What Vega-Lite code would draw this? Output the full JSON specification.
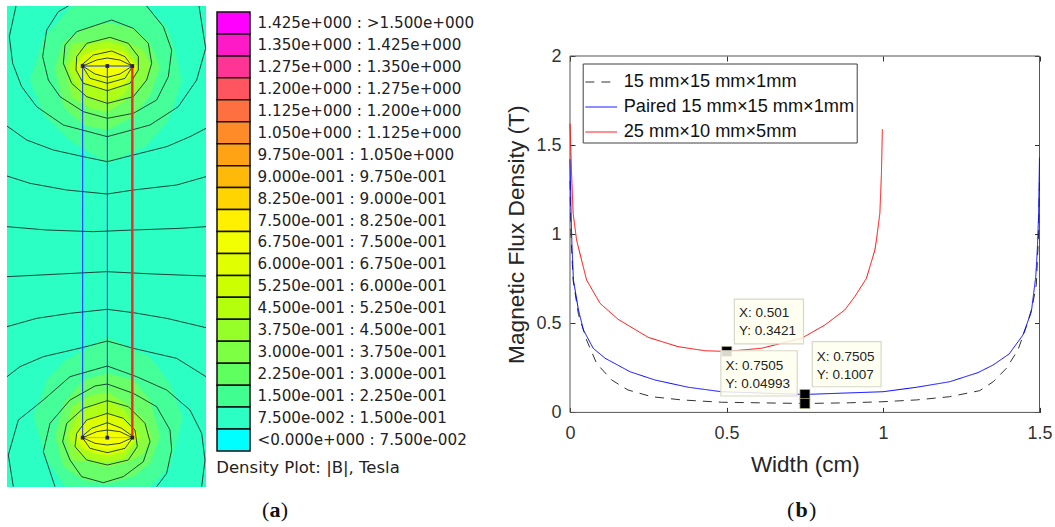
{
"$schema":"https://vega.github.io/schema/vega-lite/v6.json",
"background":"white",
"padding":{"left":5,"top":4,"right":0,"bottom":0},
"bounds":"flush",
"spacing":563,
"config":{"view":{"stroke":null}},
"resolve":{"scale":{"color":"independent","strokeDash":"independent"},"legend":{"color":"independent","strokeDash":"independent"}},
"datasets":{
"bands":[
{"level":"7.500e-002 : 1.500e-001","blob":"bg","x":21,"y":18,"y2":1461},
{"level":"7.500e-002 : 1.500e-001","blob":"bg","x":618,"y":18,"y2":1461},
{"level":"1.500e-001 : 2.250e-001","blob":"t1","x":90,"y":240,"y2":240},
{"level":"1.500e-001 : 2.250e-001","blob":"t1","x":130,"y":115,"y2":345},
{"level":"1.500e-001 : 2.250e-001","blob":"t1","x":215,"y":18,"y2":425},
{"level":"1.500e-001 : 2.250e-001","blob":"t1","x":322,"y":18,"y2":490},
{"level":"1.500e-001 : 2.250e-001","blob":"t1","x":435,"y":18,"y2":440},
{"level":"1.500e-001 : 2.250e-001","blob":"t1","x":500,"y":80,"y2":370},
{"level":"1.500e-001 : 2.250e-001","blob":"t1","x":520,"y":130,"y2":320},
{"level":"1.500e-001 : 2.250e-001","blob":"t1","x":545,"y":240,"y2":240},
{"level":"1.500e-001 : 2.250e-001","blob":"b1","x":100,"y":1250,"y2":1250},
{"level":"1.500e-001 : 2.250e-001","blob":"b1","x":140,"y":1140,"y2":1380},
{"level":"1.500e-001 : 2.250e-001","blob":"b1","x":195,"y":1080,"y2":1460},
{"level":"1.500e-001 : 2.250e-001","blob":"b1","x":322,"y":1012,"y2":1460},
{"level":"1.500e-001 : 2.250e-001","blob":"b1","x":450,"y":1070,"y2":1460},
{"level":"1.500e-001 : 2.250e-001","blob":"b1","x":510,"y":1150,"y2":1400},
{"level":"1.500e-001 : 2.250e-001","blob":"b1","x":548,"y":1250,"y2":1250},
{"level":"2.250e-001 : 3.000e-001","blob":"t2","x":165,"y":205,"y2":205},
{"level":"2.250e-001 : 3.000e-001","blob":"t2","x":190,"y":125,"y2":320},
{"level":"2.250e-001 : 3.000e-001","blob":"t2","x":250,"y":85,"y2":375},
{"level":"2.250e-001 : 3.000e-001","blob":"t2","x":322,"y":68,"y2":390},
{"level":"2.250e-001 : 3.000e-001","blob":"t2","x":400,"y":85,"y2":350},
{"level":"2.250e-001 : 3.000e-001","blob":"t2","x":450,"y":130,"y2":285},
{"level":"2.250e-001 : 3.000e-001","blob":"t2","x":480,"y":200,"y2":200},
{"level":"2.250e-001 : 3.000e-001","blob":"b2","x":165,"y":1310,"y2":1310},
{"level":"2.250e-001 : 3.000e-001","blob":"b2","x":190,"y":1210,"y2":1400},
{"level":"2.250e-001 : 3.000e-001","blob":"b2","x":250,"y":1140,"y2":1440},
{"level":"2.250e-001 : 3.000e-001","blob":"b2","x":322,"y":1120,"y2":1450},
{"level":"2.250e-001 : 3.000e-001","blob":"b2","x":400,"y":1140,"y2":1430},
{"level":"2.250e-001 : 3.000e-001","blob":"b2","x":450,"y":1200,"y2":1390},
{"level":"2.250e-001 : 3.000e-001","blob":"b2","x":480,"y":1310,"y2":1310},
{"level":"3.000e-001 : 3.750e-001","blob":"t3","x":195,"y":200,"y2":200},
{"level":"3.000e-001 : 3.750e-001","blob":"t3","x":215,"y":130,"y2":290},
{"level":"3.000e-001 : 3.750e-001","blob":"t3","x":270,"y":125,"y2":325},
{"level":"3.000e-001 : 3.750e-001","blob":"t3","x":322,"y":110,"y2":335},
{"level":"3.000e-001 : 3.750e-001","blob":"t3","x":380,"y":125,"y2":300},
{"level":"3.000e-001 : 3.750e-001","blob":"t3","x":430,"y":150,"y2":255},
{"level":"3.000e-001 : 3.750e-001","blob":"t3","x":455,"y":200,"y2":200},
{"level":"3.000e-001 : 3.750e-001","blob":"b3","x":195,"y":1311,"y2":1311},
{"level":"3.000e-001 : 3.750e-001","blob":"b3","x":215,"y":1221,"y2":1381},
{"level":"3.000e-001 : 3.750e-001","blob":"b3","x":270,"y":1186,"y2":1386},
{"level":"3.000e-001 : 3.750e-001","blob":"b3","x":322,"y":1176,"y2":1401},
{"level":"3.000e-001 : 3.750e-001","blob":"b3","x":380,"y":1211,"y2":1386},
{"level":"3.000e-001 : 3.750e-001","blob":"b3","x":430,"y":1256,"y2":1361},
{"level":"3.000e-001 : 3.750e-001","blob":"b3","x":455,"y":1311,"y2":1311},
{"level":"3.750e-001 : 4.500e-001","blob":"t4","x":205,"y":200,"y2":200},
{"level":"3.750e-001 : 4.500e-001","blob":"t4","x":235,"y":150,"y2":270},
{"level":"3.750e-001 : 4.500e-001","blob":"t4","x":280,"y":130,"y2":300},
{"level":"3.750e-001 : 4.500e-001","blob":"t4","x":322,"y":125,"y2":310},
{"level":"3.750e-001 : 4.500e-001","blob":"t4","x":370,"y":135,"y2":285},
{"level":"3.750e-001 : 4.500e-001","blob":"t4","x":420,"y":200,"y2":200},
{"level":"3.750e-001 : 4.500e-001","blob":"b4","x":205,"y":1311,"y2":1311},
{"level":"3.750e-001 : 4.500e-001","blob":"b4","x":235,"y":1241,"y2":1361},
{"level":"3.750e-001 : 4.500e-001","blob":"b4","x":280,"y":1211,"y2":1381},
{"level":"3.750e-001 : 4.500e-001","blob":"b4","x":322,"y":1201,"y2":1386},
{"level":"3.750e-001 : 4.500e-001","blob":"b4","x":370,"y":1226,"y2":1376},
{"level":"3.750e-001 : 4.500e-001","blob":"b4","x":420,"y":1311,"y2":1311},
{"level":"5.250e-001 : 6.000e-001","blob":"t5","x":225,"y":200,"y2":200},
{"level":"5.250e-001 : 6.000e-001","blob":"t5","x":250,"y":165,"y2":245},
{"level":"5.250e-001 : 6.000e-001","blob":"t5","x":290,"y":150,"y2":265},
{"level":"5.250e-001 : 6.000e-001","blob":"t5","x":322,"y":145,"y2":272},
{"level":"5.250e-001 : 6.000e-001","blob":"t5","x":370,"y":155,"y2":255},
{"level":"5.250e-001 : 6.000e-001","blob":"t5","x":412,"y":200,"y2":200},
{"level":"5.250e-001 : 6.000e-001","blob":"b5","x":225,"y":1311,"y2":1311},
{"level":"5.250e-001 : 6.000e-001","blob":"b5","x":250,"y":1266,"y2":1346},
{"level":"5.250e-001 : 6.000e-001","blob":"b5","x":290,"y":1246,"y2":1361},
{"level":"5.250e-001 : 6.000e-001","blob":"b5","x":322,"y":1239,"y2":1366},
{"level":"5.250e-001 : 6.000e-001","blob":"b5","x":370,"y":1256,"y2":1356},
{"level":"5.250e-001 : 6.000e-001","blob":"b5","x":412,"y":1311,"y2":1311},
{"level":"6.750e-001 : 7.500e-001","blob":"t6","x":240,"y":198,"y2":198},
{"level":"6.750e-001 : 7.500e-001","blob":"t6","x":290,"y":172,"y2":228},
{"level":"6.750e-001 : 7.500e-001","blob":"t6","x":322,"y":165,"y2":240},
{"level":"6.750e-001 : 7.500e-001","blob":"t6","x":360,"y":172,"y2":228},
{"level":"6.750e-001 : 7.500e-001","blob":"t6","x":405,"y":198,"y2":198},
{"level":"6.750e-001 : 7.500e-001","blob":"b6","x":240,"y":1313,"y2":1313},
{"level":"6.750e-001 : 7.500e-001","blob":"b6","x":290,"y":1283,"y2":1339},
{"level":"6.750e-001 : 7.500e-001","blob":"b6","x":322,"y":1271,"y2":1346},
{"level":"6.750e-001 : 7.500e-001","blob":"b6","x":360,"y":1283,"y2":1339},
{"level":"6.750e-001 : 7.500e-001","blob":"b6","x":405,"y":1313,"y2":1313}
],
"contours":[
{"id":"c1","x":48,"y":18},{"id":"c1","x":28,"y":110},{"id":"c1","x":38,"y":190},{"id":"c1","x":65,"y":260},{"id":"c1","x":110,"y":320},{"id":"c1","x":190,"y":375},{"id":"c1","x":322,"y":410},{"id":"c1","x":450,"y":375},{"id":"c1","x":535,"y":320},{"id":"c1","x":590,"y":240},{"id":"c1","x":617,"y":145},{"id":"c1","x":597,"y":18},
{"id":"c2","x":205,"y":18},{"id":"c2","x":175,"y":35},{"id":"c2","x":140,"y":90},{"id":"c2","x":128,"y":170},{"id":"c2","x":145,"y":240},{"id":"c2","x":180,"y":290},{"id":"c2","x":250,"y":335},{"id":"c2","x":322,"y":355},{"id":"c2","x":400,"y":340},{"id":"c2","x":470,"y":300},{"id":"c2","x":505,"y":230},{"id":"c2","x":515,"y":150},{"id":"c2","x":490,"y":80},{"id":"c2","x":440,"y":18},
{"id":"c3","x":335,"y":60},{"id":"c3","x":230,"y":95},{"id":"c3","x":195,"y":135},{"id":"c3","x":190,"y":190},{"id":"c3","x":215,"y":250},{"id":"c3","x":260,"y":290},{"id":"c3","x":322,"y":310},{"id":"c3","x":400,"y":290},{"id":"c3","x":440,"y":240},{"id":"c3","x":455,"y":190},{"id":"c3","x":445,"y":130},{"id":"c3","x":400,"y":85},{"id":"c3","x":335,"y":60},
{"id":"c4","x":330,"y":112},{"id":"c4","x":260,"y":130},{"id":"c4","x":230,"y":170},{"id":"c4","x":228,"y":210},{"id":"c4","x":250,"y":250},{"id":"c4","x":322,"y":272},{"id":"c4","x":390,"y":250},{"id":"c4","x":415,"y":210},{"id":"c4","x":415,"y":170},{"id":"c4","x":385,"y":130},{"id":"c4","x":330,"y":112},
{"id":"c5","x":335,"y":153},{"id":"c5","x":280,"y":165},{"id":"c5","x":245,"y":195},{"id":"c5","x":270,"y":235},{"id":"c5","x":322,"y":250},{"id":"c5","x":375,"y":235},{"id":"c5","x":397,"y":200},{"id":"c5","x":375,"y":170},{"id":"c5","x":335,"y":153},
{"id":"c6","x":248,"y":198},{"id":"c6","x":290,"y":180},{"id":"c6","x":322,"y":174},{"id":"c6","x":360,"y":180},{"id":"c6","x":397,"y":198},{"id":"c6","x":360,"y":222},{"id":"c6","x":322,"y":232},{"id":"c6","x":285,"y":222},{"id":"c6","x":248,"y":198},
{"id":"h1","x":21,"y":378},{"id":"h1","x":80,"y":420},{"id":"h1","x":160,"y":450},{"id":"h1","x":250,"y":470},{"id":"h1","x":322,"y":485},{"id":"h1","x":400,"y":465},{"id":"h1","x":500,"y":440},{"id":"h1","x":570,"y":410},{"id":"h1","x":618,"y":385},
{"id":"h2","x":21,"y":528},{"id":"h2","x":90,"y":550},{"id":"h2","x":200,"y":570},{"id":"h2","x":322,"y":582},{"id":"h2","x":400,"y":570},{"id":"h2","x":530,"y":555},{"id":"h2","x":618,"y":530},
{"id":"h3","x":21,"y":680},{"id":"h3","x":140,"y":690},{"id":"h3","x":280,"y":695},{"id":"h3","x":400,"y":690},{"id":"h3","x":540,"y":685},{"id":"h3","x":618,"y":680},
{"id":"h4","x":21,"y":830},{"id":"h4","x":180,"y":822},{"id":"h4","x":320,"y":815},{"id":"h4","x":460,"y":822},{"id":"h4","x":618,"y":828},
{"id":"h5","x":21,"y":980},{"id":"h5","x":110,"y":955},{"id":"h5","x":210,"y":940},{"id":"h5","x":322,"y":928},{"id":"h5","x":400,"y":938},{"id":"h5","x":500,"y":955},{"id":"h5","x":618,"y":983},
{"id":"h6","x":21,"y":1130},{"id":"h6","x":60,"y":1100},{"id":"h6","x":130,"y":1070},{"id":"h6","x":250,"y":1042},{"id":"h6","x":322,"y":1023},{"id":"h6","x":400,"y":1045},{"id":"h6","x":530,"y":1075},{"id":"h6","x":618,"y":1130},
{"id":"b1","x":40,"y":1460},{"id":"b1","x":25,"y":1365},{"id":"b1","x":55,"y":1260},{"id":"b1","x":130,"y":1200},{"id":"b1","x":210,"y":1130},{"id":"b1","x":322,"y":1098},{"id":"b1","x":410,"y":1130},{"id":"b1","x":500,"y":1170},{"id":"b1","x":570,"y":1230},{"id":"b1","x":605,"y":1300},{"id":"b1","x":615,"y":1380},{"id":"b1","x":605,"y":1460},
{"id":"b2","x":165,"y":1460},{"id":"b2","x":130,"y":1355},{"id":"b2","x":150,"y":1270},{"id":"b2","x":210,"y":1200},{"id":"b2","x":285,"y":1158},{"id":"b2","x":322,"y":1152},{"id":"b2","x":400,"y":1180},{"id":"b2","x":470,"y":1220},{"id":"b2","x":510,"y":1290},{"id":"b2","x":515,"y":1350},{"id":"b2","x":500,"y":1420},{"id":"b2","x":470,"y":1460},
{"id":"b3","x":322,"y":1202},{"id":"b3","x":250,"y":1225},{"id":"b3","x":200,"y":1270},{"id":"b3","x":188,"y":1325},{"id":"b3","x":210,"y":1380},{"id":"b3","x":245,"y":1430},{"id":"b3","x":310,"y":1448},{"id":"b3","x":370,"y":1430},{"id":"b3","x":430,"y":1385},{"id":"b3","x":450,"y":1325},{"id":"b3","x":435,"y":1270},{"id":"b3","x":385,"y":1220},{"id":"b3","x":322,"y":1202},
{"id":"b4","x":322,"y":1240},{"id":"b4","x":260,"y":1260},{"id":"b4","x":230,"y":1300},{"id":"b4","x":225,"y":1340},{"id":"b4","x":260,"y":1380},{"id":"b4","x":322,"y":1395},{"id":"b4","x":385,"y":1380},{"id":"b4","x":412,"y":1340},{"id":"b4","x":405,"y":1290},{"id":"b4","x":370,"y":1255},{"id":"b4","x":322,"y":1240},
{"id":"b5","x":322,"y":1268},{"id":"b5","x":275,"y":1285},{"id":"b5","x":245,"y":1310},{"id":"b5","x":270,"y":1345},{"id":"b5","x":322,"y":1358},{"id":"b5","x":375,"y":1345},{"id":"b5","x":400,"y":1310},{"id":"b5","x":365,"y":1285},{"id":"b5","x":322,"y":1268},
{"id":"b6","x":248,"y":1313},{"id":"b6","x":290,"y":1295},{"id":"b6","x":322,"y":1290},{"id":"b6","x":360,"y":1295},{"id":"b6","x":397,"y":1313},{"id":"b6","x":360,"y":1330},{"id":"b6","x":322,"y":1335},{"id":"b6","x":285,"y":1330},{"id":"b6","x":248,"y":1313}
],
"key":[
{"level":"1.425e+000 : >1.500e+000"},{"level":"1.350e+000 : 1.425e+000"},{"level":"1.275e+000 : 1.350e+000"},{"level":"1.200e+000 : 1.275e+000"},{"level":"1.125e+000 : 1.200e+000"},{"level":"1.050e+000 : 1.125e+000"},{"level":"9.750e-001 : 1.050e+000"},{"level":"9.000e-001 : 9.750e-001"},{"level":"8.250e-001 : 9.000e-001"},{"level":"7.500e-001 : 8.250e-001"},{"level":"6.750e-001 : 7.500e-001"},{"level":"6.000e-001 : 6.750e-001"},{"level":"5.250e-001 : 6.000e-001"},{"level":"4.500e-001 : 5.250e-001"},{"level":"3.750e-001 : 4.500e-001"},{"level":"3.000e-001 : 3.750e-001"},{"level":"2.250e-001 : 3.000e-001"},{"level":"1.500e-001 : 2.250e-001"},{"level":"7.500e-002 : 1.500e-001"},{"level":"<0.000e+000 : 7.500e-002"}
],
"curves":[
{"s":"15 mm×15 mm×1mm","x":0,"y":1.3},{"s":"15 mm×15 mm×1mm","x":0.003,"y":1.0},{"s":"15 mm×15 mm×1mm","x":0.01,"y":0.74},{"s":"15 mm×15 mm×1mm","x":0.027,"y":0.55},{"s":"15 mm×15 mm×1mm","x":0.053,"y":0.406},{"s":"15 mm×15 mm×1mm","x":0.085,"y":0.275},{"s":"15 mm×15 mm×1mm","x":0.133,"y":0.182},{"s":"15 mm×15 mm×1mm","x":0.185,"y":0.126},{"s":"15 mm×15 mm×1mm","x":0.261,"y":0.088},{"s":"15 mm×15 mm×1mm","x":0.357,"y":0.07},{"s":"15 mm×15 mm×1mm","x":0.484,"y":0.057},{"s":"15 mm×15 mm×1mm","x":0.7505,"y":0.04993},{"s":"15 mm×15 mm×1mm","x":0.894,"y":0.054},{"s":"15 mm×15 mm×1mm","x":1.0,"y":0.06},{"s":"15 mm×15 mm×1mm","x":1.107,"y":0.07},{"s":"15 mm×15 mm×1mm","x":1.213,"y":0.088},{"s":"15 mm×15 mm×1mm","x":1.309,"y":0.122},{"s":"15 mm×15 mm×1mm","x":1.352,"y":0.172},{"s":"15 mm×15 mm×1mm","x":1.394,"y":0.247},{"s":"15 mm×15 mm×1mm","x":1.431,"y":0.35},{"s":"15 mm×15 mm×1mm","x":1.458,"y":0.481},{"s":"15 mm×15 mm×1mm","x":1.477,"y":0.593},{"s":"15 mm×15 mm×1mm","x":1.49,"y":0.72},{"s":"15 mm×15 mm×1mm","x":1.497,"y":1.0},{"s":"15 mm×15 mm×1mm","x":1.5,"y":1.3},
{"s":"Paired 15 mm×15 mm×1mm","x":0,"y":1.42},{"s":"Paired 15 mm×15 mm×1mm","x":0.003,"y":1.15},{"s":"Paired 15 mm×15 mm×1mm","x":0.006,"y":0.95},{"s":"Paired 15 mm×15 mm×1mm","x":0.011,"y":0.743},{"s":"Paired 15 mm×15 mm×1mm","x":0.027,"y":0.575},{"s":"Paired 15 mm×15 mm×1mm","x":0.043,"y":0.462},{"s":"Paired 15 mm×15 mm×1mm","x":0.074,"y":0.36},{"s":"Paired 15 mm×15 mm×1mm","x":0.112,"y":0.304},{"s":"Paired 15 mm×15 mm×1mm","x":0.192,"y":0.228},{"s":"Paired 15 mm×15 mm×1mm","x":0.271,"y":0.182},{"s":"Paired 15 mm×15 mm×1mm","x":0.378,"y":0.141},{"s":"Paired 15 mm×15 mm×1mm","x":0.484,"y":0.116},{"s":"Paired 15 mm×15 mm×1mm","x":0.7505,"y":0.1007},{"s":"Paired 15 mm×15 mm×1mm","x":1.0,"y":0.116},{"s":"Paired 15 mm×15 mm×1mm","x":1.107,"y":0.141},{"s":"Paired 15 mm×15 mm×1mm","x":1.213,"y":0.172},{"s":"Paired 15 mm×15 mm×1mm","x":1.303,"y":0.223},{"s":"Paired 15 mm×15 mm×1mm","x":1.352,"y":0.266},{"s":"Paired 15 mm×15 mm×1mm","x":1.403,"y":0.328},{"s":"Paired 15 mm×15 mm×1mm","x":1.447,"y":0.434},{"s":"Paired 15 mm×15 mm×1mm","x":1.474,"y":0.565},{"s":"Paired 15 mm×15 mm×1mm","x":1.488,"y":0.761},{"s":"Paired 15 mm×15 mm×1mm","x":1.493,"y":0.911},{"s":"Paired 15 mm×15 mm×1mm","x":1.497,"y":1.1},{"s":"Paired 15 mm×15 mm×1mm","x":1.5,"y":1.43},
{"s":"25 mm×10 mm×5mm","x":0,"y":1.62},{"s":"25 mm×10 mm×5mm","x":0.005,"y":1.34},{"s":"25 mm×10 mm×5mm","x":0.01,"y":1.118},{"s":"25 mm×10 mm×5mm","x":0.021,"y":0.967},{"s":"25 mm×10 mm×5mm","x":0.053,"y":0.743},{"s":"25 mm×10 mm×5mm","x":0.096,"y":0.612},{"s":"25 mm×10 mm×5mm","x":0.154,"y":0.522},{"s":"25 mm×10 mm×5mm","x":0.25,"y":0.421},{"s":"25 mm×10 mm×5mm","x":0.345,"y":0.369},{"s":"25 mm×10 mm×5mm","x":0.431,"y":0.346},{"s":"25 mm×10 mm×5mm","x":0.501,"y":0.3421},{"s":"25 mm×10 mm×5mm","x":0.612,"y":0.36},{"s":"25 mm×10 mm×5mm","x":0.74,"y":0.416},{"s":"25 mm×10 mm×5mm","x":0.814,"y":0.49},{"s":"25 mm×10 mm×5mm","x":0.878,"y":0.575},{"s":"25 mm×10 mm×5mm","x":0.91,"y":0.65},{"s":"25 mm×10 mm×5mm","x":0.947,"y":0.752},{"s":"25 mm×10 mm×5mm","x":0.974,"y":0.911},{"s":"25 mm×10 mm×5mm","x":0.979,"y":0.967},{"s":"25 mm×10 mm×5mm","x":0.99,"y":1.118},{"s":"25 mm×10 mm×5mm","x":0.995,"y":1.34},{"s":"25 mm×10 mm×5mm","x":0.998,"y":1.59}
],
"frame":[
{"x":0,"y":0,"x2":1.5,"y2":0},{"x":0,"y":2,"x2":1.5,"y2":2},{"x":0,"y":0,"x2":0,"y2":2},{"x":1.5,"y":0,"x2":1.5,"y2":2}
],
"tipBoxes":[
{"x0":0.525,"x1":0.746,"y0":0.636,"y1":0.384},
{"x0":0.774,"x1":0.994,"y0":0.397,"y1":0.144},
{"x0":0.482,"x1":0.726,"y0":0.346,"y1":0.092}
],
"tipMarks":[{"x":0.501,"y":0.3421},{"x":0.7505,"y":0.1007},{"x":0.7505,"y":0.04993}],
"tipText":[
{"x":0.54,"y":0.558,"t":"X: 0.501"},{"x":0.54,"y":0.457,"t":"Y: 0.3421"},
{"x":0.788,"y":0.313,"t":"X: 0.7505"},{"x":0.788,"y":0.21,"t":"Y: 0.1007"},
{"x":0.497,"y":0.262,"t":"X: 0.7505"},{"x":0.497,"y":0.159,"t":"Y: 0.04993"}
]
},
"hconcat":[
{"spacing":11,"bounds":"flush","resolve":{"scale":{"color":"independent"},"legend":{"color":"independent"}},"hconcat":[
{"width":199,"height":481,
"layer":[
{"data":{"name":"bands"},"mark":{"type":"area","opacity":1},
"encoding":{
"x":{"field":"x","type":"quantitative","axis":null,"scale":{"domain":[21,618],"nice":false,"zero":false}},
"y":{"field":"y","type":"quantitative","axis":null,"scale":{"domain":[1461,18],"nice":false,"zero":false}},
"y2":{"field":"y2"},
"detail":{"field":"blob"},
"color":{"field":"level","type":"nominal","legend":null,"scale":{
"domain":["7.500e-002 : 1.500e-001","1.500e-001 : 2.250e-001","2.250e-001 : 3.000e-001","3.000e-001 : 3.750e-001","3.750e-001 : 4.500e-001","5.250e-001 : 6.000e-001","6.750e-001 : 7.500e-001"],
"range":["#2bffc4","#45ff98","#68ff68","#8cff3c","#aeff18","#dcff00","#f4ff00"]}}}},
{"data":{"name":"contours"},"transform":[{"window":[{"op":"row_number","as":"i"}]}],"mark":{"type":"line","color":"#14332a","strokeWidth":0.9},
"encoding":{"x":{"field":"x","type":"quantitative","axis":null},"y":{"field":"y","type":"quantitative","axis":null},"detail":{"field":"id"},"order":{"field":"i","type":"quantitative"}}},
{"data":{"values":[{"w":"a","x":248,"y":198},{"w":"a","x":248,"y":1313},{"w":"b","x":322,"y":198},{"w":"b","x":322,"y":1313},{"w":"c","x":248,"y":198},{"w":"c","x":397,"y":198}]},
"transform":[{"window":[{"op":"row_number","as":"i"}]}],
"mark":{"type":"line","color":"#1a2cff","strokeWidth":1},
"encoding":{"x":{"field":"x","type":"quantitative","axis":null},"y":{"field":"y","type":"quantitative","axis":null},"detail":{"field":"w"},"order":{"field":"i","type":"quantitative"}}},
{"data":{"values":[{"x":248,"y":1313},{"x":397,"y":1313}]},"mark":{"type":"line","color":"#b8b840","strokeWidth":1},
"encoding":{"x":{"field":"x","type":"quantitative","axis":null},"y":{"field":"y","type":"quantitative","axis":null}}},
{"data":{"values":[{"x":397,"y":198,"i":1},{"x":397,"y":1313,"i":2}]},"mark":{"type":"line","color":"#f02828","strokeWidth":2.4},
"encoding":{"x":{"field":"x","type":"quantitative","axis":null},"y":{"field":"y","type":"quantitative","axis":null},"order":{"field":"i","type":"quantitative"}}},
{"data":{"values":[{"x":248,"y":198},{"x":322,"y":198},{"x":397,"y":198},{"x":248,"y":1313},{"x":322,"y":1313},{"x":397,"y":1313}]},
"mark":{"type":"point","shape":"square","filled":true,"color":"#2a2050","size":14,"opacity":1},
"encoding":{"x":{"field":"x","type":"quantitative","axis":null},"y":{"field":"y","type":"quantitative","axis":null}}},
{"data":{"values":[{"x":797,"y":1530,"t":"("},{"x":853,"y":1530,"t":")"}]},
"mark":{"type":"text","font":"Liberation Serif","fontSize":22,"color":"#111","baseline":"middle"},
"encoding":{"x":{"field":"x","type":"quantitative","axis":null},"y":{"field":"y","type":"quantitative","axis":null},"text":{"field":"t"}}},
{"data":{"values":[{"x":825,"y":1530,"t":"a"}]},
"mark":{"type":"text","font":"Liberation Serif","fontSize":22,"fontWeight":"bold","color":"#111","baseline":"middle"},
"encoding":{"x":{"field":"x","type":"quantitative","axis":null},"y":{"field":"y","type":"quantitative","axis":null},"text":{"field":"t"}}}
]},
{"width":33,"height":445,
"title":{"text":"Density Plot: |B|, Tesla","orient":"bottom","anchor":"start","font":"DejaVu Sans","fontSize":16.5,"fontWeight":"normal","color":"#222","offset":8},
"data":{"name":"key"},
"mark":{"type":"rect","stroke":"#111","strokeWidth":1.5},
"encoding":{
"y":{"field":"level","type":"nominal","sort":null,"title":null,
"scale":{"range":[6,445],"paddingInner":0,"paddingOuter":0},
"axis":{"orient":"right","domain":false,"ticks":false,"labelPadding":7,"labelFont":"DejaVu Sans","labelFontSize":15.2,"labelColor":"#222","labelLimit":0,"title":null}},
"color":{"field":"level","type":"nominal","sort":null,"legend":null,"scale":{
"domain":["1.425e+000 : >1.500e+000","1.350e+000 : 1.425e+000","1.275e+000 : 1.350e+000","1.200e+000 : 1.275e+000","1.125e+000 : 1.200e+000","1.050e+000 : 1.125e+000","9.750e-001 : 1.050e+000","9.000e-001 : 9.750e-001","8.250e-001 : 9.000e-001","7.500e-001 : 8.250e-001","6.750e-001 : 7.500e-001","6.000e-001 : 6.750e-001","5.250e-001 : 6.000e-001","4.500e-001 : 5.250e-001","3.750e-001 : 4.500e-001","3.000e-001 : 3.750e-001","2.250e-001 : 3.000e-001","1.500e-001 : 2.250e-001","7.500e-002 : 1.500e-001","<0.000e+000 : 7.500e-002"],
"range":["#ff00ff","#ff1ac8","#ff3596","#ff5560","#ff7040","#ff8a28","#ffa214","#ffb908","#ffd400","#fff000","#f2ff00","#e0ff00","#ccff00","#b4ff0c","#96ff2a","#7dff44","#5fff60","#40ff90","#2bffc4","#00ffff"]}}}}
]},
{"width":469.5,"height":406.4,
"resolve":{"axis":{"x":"independent","y":"independent"}},
"layer":[
{"data":{"name":"frame"},"mark":{"type":"rule","color":"#555555","strokeWidth":1},
"encoding":{"x":{"field":"x","type":"quantitative","axis":null,"scale":{"domain":[0,1.5],"nice":false}},"x2":{"field":"x2"},"y":{"field":"y","type":"quantitative","axis":null,"scale":{"domain":[0,2],"range":[406.4,50],"nice":false}},"y2":{"field":"y2"}}},
{"data":{"name":"curves"},"mark":{"type":"line","strokeWidth":1,"clip":false},
"encoding":{
"x":{"field":"x","type":"quantitative","title":"Width (cm)",
"axis":{"values":[0,0.5,1,1.5],"format":"~g","grid":false,"domain":false,"tickColor":"#303030","tickSize":-5,"labelFont":"Liberation Sans","labelFontSize":18,"labelColor":"#333","labelPadding":17,"labelFlush":false,"titleFont":"Liberation Sans","titleFontSize":22.5,"titleFontWeight":"normal","titleColor":"#262626","titlePadding":11}},
"y":{"field":"y","type":"quantitative","title":"Magnetic Flux Density (T)",
"axis":{"values":[0,0.5,1,1.5,2],"format":"~g","grid":false,"domain":false,"tickColor":"#303030","tickSize":-5,"labelFont":"Liberation Sans","labelFontSize":18,"labelColor":"#333","labelPadding":14,"labelFlush":false,"titleFont":"Liberation Sans","titleFontSize":22.7,"titleFontWeight":"normal","titleColor":"#262626","titlePadding":7}},
"color":{"field":"s","type":"nominal","sort":null,"scale":{"domain":["15 mm×15 mm×1mm","Paired 15 mm×15 mm×1mm","25 mm×10 mm×5mm"],"range":["#333333","#0000ff","#ff0000"]},
"legend":{"orient":"none","legendX":12.7,"legendY":57.5,"title":null,"symbolType":"stroke","symbolSize":1000,"symbolStrokeWidth":1,"labelFont":"Liberation Sans","labelFontSize":18.2,"labelColor":"#111","labelLimit":0,"fillColor":"white","strokeColor":"#404040","padding":2,"rowPadding":-2,"labelOffset":6}},
"strokeDash":{"field":"s","type":"nominal","sort":null,"scale":{"domain":["15 mm×15 mm×1mm","Paired 15 mm×15 mm×1mm","25 mm×10 mm×5mm"],"range":[[9,7],[1,0],[1,0]]}}}},
{"data":{"values":[{"x":0,"y":2},{"x":1.5,"y":0}]},"mark":{"type":"point","opacity":0},
"encoding":{
"x":{"field":"x","type":"quantitative","axis":{"orient":"top","offset":-50,"values":[0,0.5,1,1.5],"labels":false,"title":null,"grid":false,"domain":false,"tickColor":"#303030","tickSize":-5}},
"y":{"field":"y","type":"quantitative","axis":{"orient":"right","values":[0,0.5,1,1.5,2],"labels":false,"title":null,"grid":false,"domain":false,"tickColor":"#303030","tickSize":-5}}}},
{"data":{"name":"tipMarks"},"mark":{"type":"point","shape":"square","filled":true,"color":"#000","size":100,"opacity":1,"stroke":"#b8b48c","strokeWidth":0.7},
"encoding":{"x":{"field":"x","type":"quantitative","axis":null},"y":{"field":"y","type":"quantitative","axis":null}}},
{"data":{"name":"tipBoxes"},"mark":{"type":"rect","fill":"#ffffee","fillOpacity":0.85,"stroke":"#d8d8c8","strokeWidth":1.2},
"encoding":{"x":{"field":"x0","type":"quantitative","axis":null},"x2":{"field":"x1"},"y":{"field":"y0","type":"quantitative","axis":null},"y2":{"field":"y1"}}},
{"data":{"name":"tipText"},"mark":{"type":"text","align":"left","baseline":"middle","font":"Liberation Sans","fontSize":13.5,"color":"#222"},
"encoding":{"x":{"field":"x","type":"quantitative","axis":null},"y":{"field":"y","type":"quantitative","axis":null},"text":{"field":"t"}}},
{"data":{"values":[{"x":0.705,"y":-0.548,"t":"("},{"x":0.775,"y":-0.548,"t":")"}]},"mark":{"type":"text","baseline":"middle","font":"Liberation Serif","fontSize":22,"color":"#111"},
"encoding":{"x":{"field":"x","type":"quantitative","axis":null},"y":{"field":"y","type":"quantitative","axis":null},"text":{"field":"t"}}},
{"data":{"values":[{"x":0.74,"y":-0.548,"t":"b"}]},"mark":{"type":"text","baseline":"middle","font":"Liberation Serif","fontSize":22,"fontWeight":"bold","color":"#111"},
"encoding":{"x":{"field":"x","type":"quantitative","axis":null},"y":{"field":"y","type":"quantitative","axis":null},"text":{"field":"t"}}}
]}
]
}
